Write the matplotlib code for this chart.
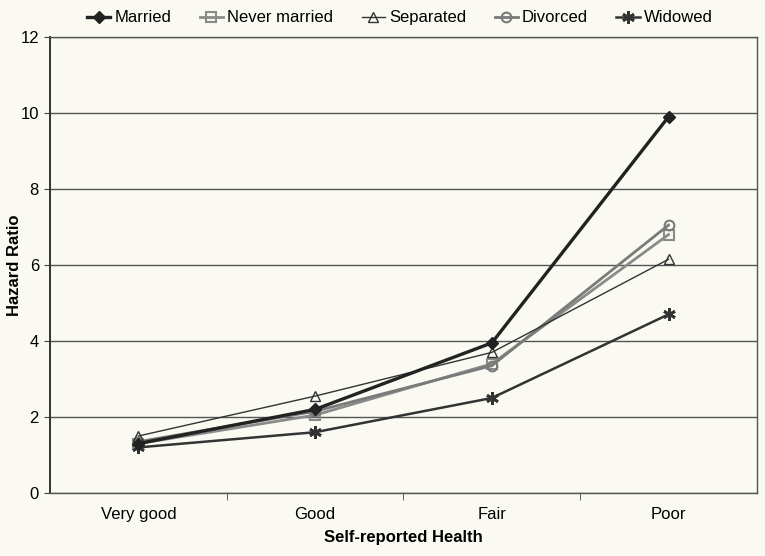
import matplotlib
matplotlib.use("Agg")
import matplotlib.pyplot as plt

plt.rcParams['font.family'] = ['Liberation Sans', 'DejaVu Sans']

categories = ["Very good", "Good", "Fair", "Poor"]
married = [1.3, 2.2, 3.95, 9.9]
never_married = [1.3, 2.05, 3.4, 6.8]
separated = [1.5, 2.55, 3.7, 6.15]
divorced = [1.35, 2.15, 3.35, 7.05]
widowed = [1.2, 1.6, 2.5, 4.7]

bg = '#fafaf2'
fig = plt.figure(figsize=(7.65, 5.56), dpi=100, facecolor=bg)
ax = fig.add_axes([0.0654, 0.1133, 0.924, 0.8202])
ax.set_facecolor(bg)

x = range(len(categories))
ax.plot(x, married, color='#222222', lw=2.4, marker='D', ms=6, label='Married', zorder=5)
ax.plot(x, never_married, color='#8a8a8a', lw=2.0, marker='s', ms=7,
        mfc='none', mew=1.5, label='Never married', zorder=3)
ax.plot(x, separated, color='#333333', lw=1.0, marker='^', ms=7,
        mfc='none', mew=1.0, label='Separated', zorder=4)
ax.plot(x, divorced, color='#7a7a7a', lw=2.0, marker='o', ms=7,
        mfc='none', mew=1.5, label='Divorced', zorder=3)
ax.plot(x, widowed, color='#333333', lw=1.8, marker=(6, 2, 0), ms=9, mew=2.0,
        label='Widowed', zorder=4)

ax.set_xlim(-0.5, 3.5)
ax.set_ylim(0, 12)
ax.set_yticks(range(0, 13, 2))
ax.set_xticks(list(x))
ax.set_xticklabels(categories)
ax.set_xticks([0.5, 1.5, 2.5], minor=True)
ax.tick_params(axis='x', which='major', length=0, pad=10, labelsize=12)
ax.tick_params(axis='x', which='minor', length=5, direction='out', color='#444444')
ax.tick_params(axis='y', length=4, pad=4, direction='out', labelsize=12, color='#444444')
ax.yaxis.grid(True, color='#555555', lw=1.0)
ax.set_axisbelow(True)
for s in ax.spines.values():
    s.set_color('#555555')
    s.set_linewidth(1.0)
ax.spines['left'].set_color('#333333')
ax.spines['left'].set_linewidth(1.4)

ax.set_xlabel('Self-reported Health', fontsize=12, fontweight='bold', labelpad=6)
ax.set_ylabel('Hazard Ratio', fontsize=12, fontweight='bold')
ax.yaxis.set_label_coords(-0.04, 0.5)

ax.legend(loc='center', bbox_to_anchor=(0.495, 1.0 + 19 / 456), ncol=5, frameon=False,
          fontsize=12, handlelength=1.4, handletextpad=0.25, columnspacing=1.7,
          borderaxespad=0.0, borderpad=0.0)

fig.savefig('out.png', dpi=100, facecolor=bg)
